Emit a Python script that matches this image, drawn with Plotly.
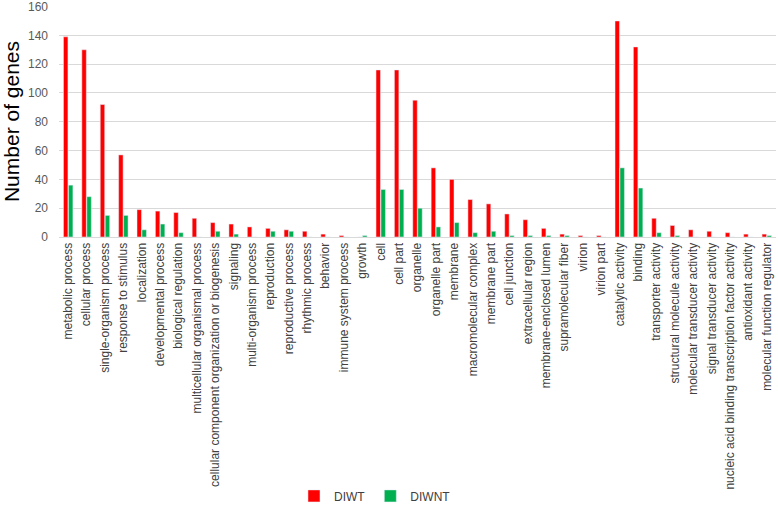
import plotly.graph_objects as go

categories = [
    "metabolic process", "cellular process", "single-organism process", "response to stimulus",
    "localization", "developmental process", "biological regulation",
    "multicellular organismal process", "cellular component organization or biogenesis",
    "signaling", "multi-organism process", "reproduction", "reproductive process",
    "rhythmic process", "behavior", "immune system process", "growth",
    "cell", "cell part", "organelle", "organelle part", "membrane",
    "macromolecular complex", "membrane part", "cell junction", "extracellular region",
    "membrane-enclosed lumen", "supramolecular fiber", "virion", "virion part",
    "catalytic activity", "binding", "transporter activity", "structural molecule activity",
    "molecular transducer activity", "signal transducer activity",
    "nucleic acid binding transcription factor activity", "antioxidant activity",
    "molecular function regulator",
]

diwt = [139, 130, 92, 57, 19, 18, 17, 13, 10, 9, 7, 6, 5, 4, 2, 1, 0,
        116, 116, 95, 48, 40, 26, 23, 16, 12, 6, 2, 1, 1,
        150, 132, 13, 8, 5, 4, 3, 2, 2]
diwnt = [36, 28, 15, 15, 5, 9, 3, 0, 4, 2, 0, 4, 4, 0, 0, 0, 1,
         33, 33, 20, 7, 10, 3, 4, 1, 1, 1, 1, 0, 0,
         48, 34, 3, 1, 0, 0, 0, 0, 1]

fig = go.Figure()
fig.add_trace(go.Bar(x=categories, y=diwt, name="DIWT", marker_color="#FF0000"))
fig.add_trace(go.Bar(x=categories, y=diwnt, name="DIWNT", marker_color="#00B050"))

fig.update_layout(
    width=778, height=505,
    margin=dict(l=59, r=2, t=6, b=268),
    plot_bgcolor="white", paper_bgcolor="white",
    font=dict(family="Liberation Sans, Arial, sans-serif", color="#404040"),
    barmode="group", bargap=0.46, bargroupgap=0.1,
    showlegend=True,
    legend=dict(orientation="h", xref="container", yref="container",
                x=0.482, xanchor="center", y=0.018, yanchor="middle",
                font=dict(size=12, color="#404040"), itemwidth=30, tracegroupgap=0),
)
fig.update_xaxes(
    tickangle=-90, tickfont=dict(size=12, color="#404040"), automargin=False,
    showline=True, linecolor="#d9d9d9", linewidth=1, ticks="",
)
fig.update_yaxes(
    range=[0, 160.4], tickvals=[0, 20, 40, 60, 80, 100, 120, 140, 160],
    showgrid=True, gridcolor="#d9d9d9", gridwidth=1, ticklabeloverflow="allow",
    zeroline=False, tickfont=dict(size=12, color="#595959"), automargin=False,
    title=dict(text="Number of genes", font=dict(size=21, color="#000000"), standoff=12),
    ticklabelstandoff=10,
)

# drop the default page margin so the figure sits at the window's corner
fig.write_html("out.html", config={"displayModeBar": False},
               post_script="document.body.style.margin='0';")
